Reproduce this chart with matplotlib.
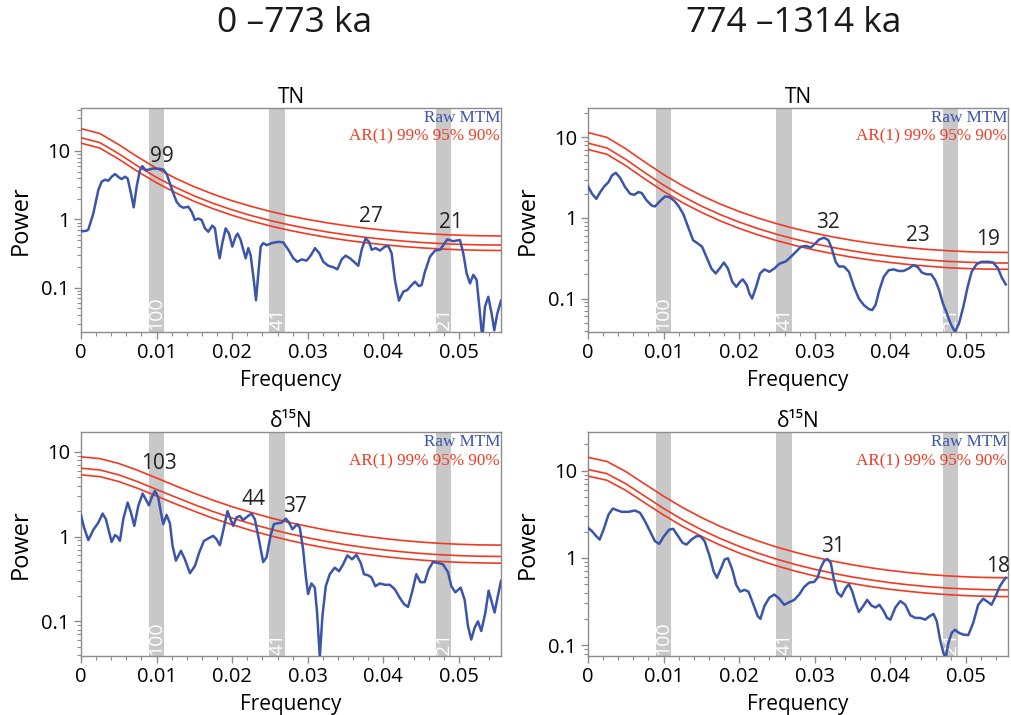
import matplotlib
matplotlib.use("Agg")
import matplotlib.pyplot as plt
from matplotlib.ticker import MultipleLocator, LogLocator, NullFormatter, FixedLocator, FixedFormatter
import matplotlib.transforms as mtransforms

plt.rcParams['font.family'] = ['Open Sans', 'DejaVu Sans']

# ---------------- data ----------------
column_titles = ["0 \u2013773 ka", "774 \u20131314 ka"]
panel_titles = ["TN", "TN", "\u03b4\u00b9\u2075N", "\u03b4\u00b9\u2075N"]
band_edges = [(0.009, 0.011), (0.0249, 0.027), (0.047, 0.049)]
band_labels = ["100", "41", "21"]
ylims = [(0.023, 42), (0.039, 23), (0.039, 17), (0.075, 27.5)]

# Raw MTM spectra (frequency, power)
tn_a_freq = [0, 0.0007, 0.00097, 0.00163, 0.00229, 0.00273, 0.00317, 0.00362, 0.00406, 0.0045, 0.00503,
             0.00538, 0.00582, 0.00617, 0.00661, 0.00697, 0.00736, 0.0078, 0.00811, 0.00855, 0.009,
             0.00957, 0.01023, 0.01089, 0.01133, 0.01177, 0.01221, 0.01265, 0.0131, 0.01354, 0.0142,
             0.01464, 0.01508, 0.01552, 0.01596, 0.0164, 0.01684, 0.01737, 0.01772, 0.01803, 0.01834,
             0.01869, 0.01914, 0.01958, 0.02002, 0.02046, 0.02072, 0.02112, 0.02147, 0.02178, 0.02213,
             0.02244, 0.0228, 0.02315, 0.02346, 0.02377, 0.02412, 0.02456, 0.02522, 0.0261, 0.02676,
             0.02743, 0.02809, 0.02862, 0.02919, 0.02985, 0.03042, 0.03095, 0.03153, 0.03205, 0.03272,
             0.03338, 0.03391, 0.03448, 0.03501, 0.03558, 0.03611, 0.03668, 0.03713, 0.03765, 0.0381,
             0.03845, 0.03898, 0.03955, 0.04021, 0.04065, 0.04109, 0.04153, 0.04206, 0.04264, 0.04317,
             0.04361, 0.04418, 0.04471, 0.04506, 0.0455, 0.04616, 0.04683, 0.04749, 0.04793, 0.04846,
             0.04925, 0.05013, 0.05057, 0.05101, 0.05146, 0.0519, 0.05234, 0.05278, 0.05309, 0.05344,
             0.05388, 0.05432, 0.05467, 0.05507, 0.05556]
tn_a_power = [0.67, 0.68, 0.71, 1.22, 2.68, 3.55, 3.8, 3.67, 4.2, 4.6, 4.1,
              3.88, 4.2, 3.97, 2.4, 1.5, 3.0, 5.25, 6.0, 5.25, 5.35,
              5.55, 5.5, 5.35, 4.6, 3.35, 2.4, 1.81, 1.57, 1.48, 1.53,
              1.29, 0.98, 1.03, 0.98, 0.74, 0.66, 0.81, 0.74, 0.42, 0.27,
              0.45, 0.74, 0.62, 0.40, 0.56, 0.62, 0.50, 0.36, 0.27, 0.38,
              0.30, 0.146, 0.066, 0.163, 0.40, 0.45, 0.42, 0.45, 0.47, 0.46,
              0.36, 0.27, 0.24, 0.26, 0.25, 0.30, 0.38, 0.32, 0.24, 0.21,
              0.20, 0.186, 0.26, 0.295, 0.27, 0.24, 0.21, 0.36, 0.53, 0.47,
              0.36, 0.38, 0.35, 0.40, 0.41, 0.32, 0.13, 0.065, 0.088, 0.093,
              0.106, 0.123, 0.106, 0.11, 0.172, 0.285, 0.35, 0.36, 0.42, 0.51,
              0.48, 0.50, 0.32, 0.163, 0.116, 0.155, 0.13, 0.042, 0.018, 0.053,
              0.074, 0.042, 0.024, 0.042, 0.065]

tn_b_freq = [0, 0.00053, 0.0011, 0.00162, 0.00215, 0.00272, 0.00316, 0.00368, 0.00425, 0.00491, 0.00557,
             0.0061, 0.00667, 0.00711, 0.00776, 0.00842, 0.00886, 0.00952, 0.01018, 0.01075, 0.01136,
             0.01193, 0.01259, 0.01325, 0.0139, 0.01456, 0.01509, 0.01566, 0.01632, 0.01689, 0.01741,
             0.01798, 0.01851, 0.01908, 0.01961, 0.02013, 0.02048, 0.02101, 0.02136, 0.02171, 0.02224,
             0.02276, 0.02333, 0.02399, 0.02465, 0.02531, 0.02618, 0.02684, 0.0275, 0.02816, 0.02882,
             0.02947, 0.03004, 0.03057, 0.03123, 0.0318, 0.03224, 0.03276, 0.0332, 0.03386, 0.03452,
             0.03518, 0.03583, 0.03649, 0.03715, 0.03759, 0.03803, 0.03855, 0.03912, 0.03978, 0.04044,
             0.0411, 0.04175, 0.04241, 0.04307, 0.04364, 0.04417, 0.04482, 0.04539, 0.04592, 0.04645,
             0.04693, 0.04746, 0.04803, 0.04855, 0.04908, 0.04965, 0.05022, 0.05075, 0.0514, 0.05206,
             0.05294, 0.0536, 0.05425, 0.05469, 0.05526]
tn_b_power = [2.47, 2.0, 1.73, 2.1, 2.47, 2.79, 3.37, 3.64, 3.15, 2.42, 2.0,
              1.94, 2.1, 2.04, 1.65, 1.43, 1.39, 1.62, 1.85, 1.82, 1.65,
              1.43, 1.13, 0.77, 0.53, 0.48, 0.44, 0.33, 0.236, 0.205, 0.236,
              0.28, 0.236, 0.162, 0.14, 0.162, 0.173, 0.147, 0.115, 0.10, 0.14,
              0.205, 0.23, 0.215, 0.236, 0.27, 0.29, 0.33, 0.38, 0.44, 0.45,
              0.43, 0.48, 0.54, 0.57, 0.53, 0.42, 0.286, 0.25, 0.25, 0.215,
              0.14, 0.10, 0.083, 0.074, 0.072, 0.083, 0.128, 0.186, 0.225, 0.23,
              0.22, 0.22, 0.236, 0.26, 0.245, 0.21, 0.20, 0.20, 0.17, 0.128,
              0.088, 0.066, 0.047, 0.039, 0.049, 0.079, 0.14, 0.215, 0.267, 0.286,
              0.286, 0.28, 0.236, 0.186, 0.15]

d15n_a_freq = [0, 0.0004, 0.00097, 0.00163, 0.00229, 0.00286, 0.0033, 0.00374, 0.00405, 0.00449, 0.0048,
               0.00515, 0.00559, 0.00617, 0.00661, 0.00705, 0.00758, 0.00815, 0.00868, 0.00899, 0.00934,
               0.00978, 0.01022, 0.01057, 0.01088, 0.01132, 0.01176, 0.01211, 0.01256, 0.01322, 0.01374,
               0.01441, 0.01507, 0.01564, 0.01626, 0.01683, 0.01749, 0.01793, 0.01837, 0.01881, 0.01938,
               0.01978, 0.02013, 0.02057, 0.02101, 0.02145, 0.02211, 0.02256, 0.023, 0.02344, 0.0241,
               0.02454, 0.02507, 0.02551, 0.02608, 0.02652, 0.02709, 0.02753, 0.02797, 0.02859, 0.02894,
               0.02938, 0.02974, 0.03004, 0.03048, 0.03093, 0.03123, 0.03159, 0.03194, 0.03238, 0.03291,
               0.03357, 0.03414, 0.03467, 0.03524, 0.03586, 0.03643, 0.037, 0.03744, 0.03797, 0.03841,
               0.03894, 0.03952, 0.04018, 0.04084, 0.0415, 0.04216, 0.04273, 0.04326, 0.04379, 0.04436,
               0.04489, 0.04546, 0.04599, 0.04656, 0.04722, 0.04789, 0.04855, 0.04899, 0.04952, 0.05022,
               0.05075, 0.05119, 0.05163, 0.05207, 0.05251, 0.05295, 0.05348, 0.05392, 0.05436, 0.05471,
               0.05515, 0.05556]
d15n_a_power = [1.79, 1.28, 0.91, 1.2, 1.46, 1.87, 1.6, 1.11, 0.865, 1.04, 1.0,
                0.89, 1.6, 2.52, 1.92, 1.34, 2.3, 3.22, 2.64, 2.34, 2.89,
                3.46, 2.89, 1.92, 1.4, 1.8, 1.44, 0.78, 0.52, 0.68, 0.54,
                0.37, 0.45, 0.65, 0.89, 0.95, 1.02, 0.93, 0.79, 1.17, 2.0,
                1.6, 1.34, 1.68, 1.75, 1.57, 1.75, 1.87, 1.6, 1.02, 0.50,
                0.57, 1.02, 1.4, 1.44, 1.46, 1.63, 1.46, 1.22, 1.4, 1.28,
                0.71, 0.34, 0.21, 0.28, 0.25, 0.127, 0.038, 0.116, 0.26, 0.36,
                0.43, 0.39, 0.47, 0.60, 0.54, 0.61, 0.49, 0.36, 0.35, 0.33,
                0.26, 0.28, 0.27, 0.27, 0.24, 0.19, 0.16, 0.148, 0.22, 0.36,
                0.29, 0.29, 0.41, 0.50, 0.49, 0.47, 0.38, 0.26, 0.22, 0.25,
                0.18, 0.088, 0.061, 0.084, 0.10, 0.077, 0.125, 0.23, 0.166, 0.127,
                0.20, 0.30]

d15n_b_freq = [0, 0.00053, 0.0011, 0.00154, 0.00206, 0.00272, 0.00329, 0.00382, 0.00447, 0.00535, 0.00623,
               0.00689, 0.00754, 0.0082, 0.00886, 0.00943, 0.01004, 0.01075, 0.01127, 0.01193, 0.0125,
               0.01303, 0.01368, 0.01434, 0.01487, 0.01544, 0.0161, 0.01662, 0.01706, 0.01763, 0.01807,
               0.01851, 0.01908, 0.01961, 0.02013, 0.0207, 0.02123, 0.0218, 0.02246, 0.02281, 0.02333,
               0.02399, 0.02465, 0.02531, 0.02596, 0.02662, 0.02728, 0.02794, 0.0286, 0.02925, 0.02991,
               0.03035, 0.03079, 0.03123, 0.03167, 0.03211, 0.03254, 0.03298, 0.03351, 0.03408, 0.03452,
               0.03496, 0.0354, 0.03583, 0.0364, 0.03693, 0.0375, 0.03803, 0.03855, 0.03912, 0.03956,
               0.04, 0.04066, 0.04132, 0.04197, 0.04263, 0.04329, 0.04395, 0.04461, 0.04518, 0.0457,
               0.04614, 0.04658, 0.04702, 0.04732, 0.04768, 0.04811, 0.04855, 0.04908, 0.04965, 0.05031,
               0.05096, 0.05162, 0.05228, 0.05294, 0.05338, 0.0539, 0.05447, 0.05491, 0.05526]
d15n_b_power = [2.21, 2.02, 1.77, 1.62, 2.11, 3.14, 3.68, 3.52, 3.37, 3.37, 3.49,
                3.28, 2.63, 2.02, 1.55, 1.45, 1.77, 2.11, 2.15, 1.77, 1.49,
                1.42, 1.62, 1.77, 1.77, 1.55, 1.04, 0.70, 0.59, 0.77, 0.96,
                0.99, 0.735, 0.49, 0.41, 0.43, 0.41, 0.305, 0.214, 0.20, 0.28,
                0.35, 0.38, 0.34, 0.29, 0.31, 0.33, 0.38, 0.465, 0.52, 0.53,
                0.59, 0.77, 0.92, 0.97, 0.88, 0.56, 0.40, 0.36, 0.45, 0.50,
                0.41, 0.305, 0.24, 0.28, 0.33, 0.284, 0.27, 0.29, 0.245, 0.205,
                0.196, 0.27, 0.32, 0.29, 0.22, 0.205, 0.205, 0.196, 0.214, 0.228,
                0.188, 0.115, 0.081, 0.072, 0.106, 0.138, 0.15, 0.138, 0.132, 0.13,
                0.18, 0.29, 0.34, 0.31, 0.29, 0.36, 0.47, 0.54, 0.59]

# AR(1) red-noise confidence levels (99%, 95%, 90%)
ar_freq = [0, 0.0025, 0.005, 0.0075, 0.01, 0.0125, 0.015, 0.0175, 0.02, 0.0225, 0.025, 0.0275,
           0.03, 0.0325, 0.035, 0.0375, 0.04, 0.0425, 0.045, 0.0475, 0.05, 0.0525, 0.055, 0.05556]
tn_a_ar99 = [21.2, 17.97, 12.36, 8.17, 5.58, 3.99, 2.99, 2.33, 1.87, 1.55, 1.31, 1.13,
             0.997, 0.893, 0.811, 0.746, 0.696, 0.656, 0.626, 0.603, 0.587, 0.577, 0.573, 0.573]
tn_a_ar95 = [15.6, 13.23, 9.10, 6.01, 4.10, 2.94, 2.20, 1.711, 1.376, 1.138, 0.964, 0.833,
             0.734, 0.657, 0.597, 0.549, 0.512, 0.483, 0.460, 0.444, 0.432, 0.425, 0.422, 0.422]
tn_a_ar90 = [13.0, 11.02, 7.58, 5.01, 3.42, 2.45, 1.83, 1.426, 1.147, 0.948, 0.803, 0.695,
             0.612, 0.547, 0.497, 0.458, 0.427, 0.402, 0.384, 0.370, 0.360, 0.354, 0.351, 0.351]
tn_b_ar99 = [11.5, 10.01, 7.23, 4.96, 3.46, 2.52, 1.90, 1.490, 1.203, 0.998, 0.848, 0.734,
             0.647, 0.580, 0.527, 0.486, 0.453, 0.427, 0.407, 0.393, 0.382, 0.376, 0.374, 0.373]
tn_b_ar95 = [8.5, 7.40, 5.34, 3.66, 2.56, 1.86, 1.406, 1.101, 0.890, 0.738, 0.626, 0.543,
             0.478, 0.429, 0.390, 0.359, 0.335, 0.316, 0.301, 0.290, 0.283, 0.278, 0.276, 0.276]
tn_b_ar90 = [7.1, 6.18, 4.46, 3.06, 2.14, 1.553, 1.174, 0.920, 0.743, 0.616, 0.523, 0.453,
             0.400, 0.358, 0.325, 0.300, 0.280, 0.264, 0.252, 0.242, 0.236, 0.232, 0.231, 0.231]
d15n_a_ar99 = [8.73, 8.32, 7.28, 6.05, 4.91, 3.97, 3.24, 2.68, 2.25, 1.93, 1.67, 1.47,
               1.32, 1.19, 1.093, 1.014, 0.950, 0.900, 0.861, 0.832, 0.812, 0.799, 0.794, 0.794]
d15n_a_ar95 = [6.41, 6.11, 5.35, 4.44, 3.60, 2.92, 2.38, 1.97, 1.656, 1.415, 1.229, 1.083,
               0.967, 0.876, 0.803, 0.744, 0.697, 0.661, 0.632, 0.611, 0.596, 0.587, 0.583, 0.583]
d15n_a_ar90 = [5.35, 5.10, 4.46, 3.71, 3.01, 2.43, 1.99, 1.64, 1.382, 1.181, 1.026, 0.904,
               0.807, 0.731, 0.670, 0.621, 0.582, 0.552, 0.528, 0.510, 0.497, 0.490, 0.486, 0.486]
d15n_b_ar99 = [14.2, 12.74, 9.75, 7.03, 5.09, 3.78, 2.90, 2.29, 1.867, 1.558, 1.327, 1.153,
               1.019, 0.914, 0.832, 0.767, 0.716, 0.676, 0.645, 0.622, 0.606, 0.596, 0.592, 0.592]
d15n_b_ar95 = [10.3, 9.24, 7.07, 5.10, 3.69, 2.74, 2.10, 1.664, 1.354, 1.130, 0.963, 0.836,
               0.739, 0.663, 0.603, 0.557, 0.519, 0.490, 0.468, 0.451, 0.440, 0.432, 0.429, 0.429]
d15n_b_ar90 = [8.65, 7.76, 5.94, 4.28, 3.10, 2.30, 1.767, 1.398, 1.137, 0.949, 0.808, 0.702,
               0.620, 0.557, 0.507, 0.467, 0.436, 0.412, 0.393, 0.379, 0.369, 0.363, 0.360, 0.360]

# peak period labels (text, frequency, power)
tn_a_peaks = [("99", 0.0107, 8.4), ("27", 0.0383, 1.09), ("21", 0.0490, 0.89)]
tn_b_peaks = [("32", 0.0318, 0.87), ("23", 0.0437, 0.61), ("19", 0.0529, 0.54)]
d15n_a_peaks = [("103", 0.01035, 7.28), ("44", 0.0228, 2.76), ("37", 0.0283, 2.26)]
d15n_b_peaks = [("31", 0.0324, 1.36), ("18", 0.0542, 0.80)]

panels = [
    (tn_a_freq, tn_a_power, tn_a_ar99, tn_a_ar95, tn_a_ar90, tn_a_peaks),
    (tn_b_freq, tn_b_power, tn_b_ar99, tn_b_ar95, tn_b_ar90, tn_b_peaks),
    (d15n_a_freq, d15n_a_power, d15n_a_ar99, d15n_a_ar95, d15n_a_ar90, d15n_a_peaks),
    (d15n_b_freq, d15n_b_power, d15n_b_ar99, d15n_b_ar95, d15n_b_ar90, d15n_b_peaks),
]

# ---------------- style ----------------
BLUE = "#3b55aa"
RED = "#f23a22"
BAND = "#c8c8c8"
SPINE = "#8c8c8c"
XMAX = 0.05556

fig = plt.figure(figsize=(10.11, 7.15), dpi=100)
W, H = 1011.0, 715.0
boxes = [(81, 108.3, 501, 331.5), (588, 108.3, 1008, 331.5),
         (81, 432.3, 501, 656), (588, 432.3, 1008, 656)]

for i, (freq, power, a99, a95, a90, peaks) in enumerate(panels):
    x0, y0, x1, y1 = boxes[i]
    ax = fig.add_axes([x0 / W, 1 - y1 / H, (x1 - x0) / W, (y1 - y0) / H])
    ax.set_yscale('log')
    ax.set_xlim(0, XMAX)
    ax.set_ylim(*ylims[i])

    trans = mtransforms.blended_transform_factory(ax.transData, ax.transAxes)
    for (b0, b1), lab in zip(band_edges, band_labels):
        ax.axvspan(b0, b1, color=BAND, lw=0, zorder=0)
        ax.text((b0 + b1) / 2, 0.005, lab, transform=trans, rotation=90,
                ha='center', va='bottom', color='white', fontsize=14,
                zorder=1, clip_on=True)

    for arr in (a99, a95, a90):
        ax.plot(ar_freq, arr, color=RED, lw=1.2, zorder=3)
    ax.plot(freq, power, color=BLUE, lw=1.8, zorder=4, solid_joinstyle='round')

    for lab, fx, py in peaks:
        ax.text(fx, py, lab, ha='center', va='center', fontsize=15,
                color='#222222', zorder=5)

    ax.text(0.998, 0.957, "Raw MTM", transform=ax.transAxes, ha='right', va='center',
            color=BLUE, fontsize=12.3, family='Liberation Serif', zorder=6)
    ax.text(0.998, 0.872, "AR(1) 99% 95% 90%", transform=ax.transAxes, ha='right',
            va='center', color=RED, fontsize=12.3, family='Liberation Serif', zorder=6)

    ax.set_title(panel_titles[i], fontsize=15, pad=2 if i < 2 else -1)

    ax.xaxis.set_major_locator(FixedLocator([0, 0.01, 0.02, 0.03, 0.04, 0.05]))
    ax.xaxis.set_major_formatter(FixedFormatter(["0", "0.01", "0.02", "0.03", "0.04", "0.05"]))
    ax.xaxis.set_minor_locator(MultipleLocator(0.002))
    ax.yaxis.set_major_locator(FixedLocator([0.1, 1, 10]))
    ax.yaxis.set_major_formatter(FixedFormatter(["0.1", "1", "10"]))
    ax.yaxis.set_minor_locator(LogLocator(base=10, subs=range(2, 10)))
    ax.yaxis.set_minor_formatter(NullFormatter())
    ax.tick_params(axis='both', which='major', direction='out', length=5, width=1,
                   color=SPINE, labelsize=14.5, pad=3)
    ax.tick_params(axis='both', which='minor', direction='out', length=3, width=0.8,
                   color=SPINE)
    for sp in ax.spines.values():
        sp.set_color(SPINE)
        sp.set_linewidth(1)
    ax.set_xlabel("Frequency", fontsize=15, labelpad=5)
    ax.set_ylabel("Power", fontsize=17, labelpad=6)

for cx, title in zip((295, 794), column_titles):
    fig.text(cx / W, 1 - 23 / H, title, ha='center', va='center', fontsize=25.5,
             color='#1a1a1a')

fig.savefig("out.png", dpi=100)
